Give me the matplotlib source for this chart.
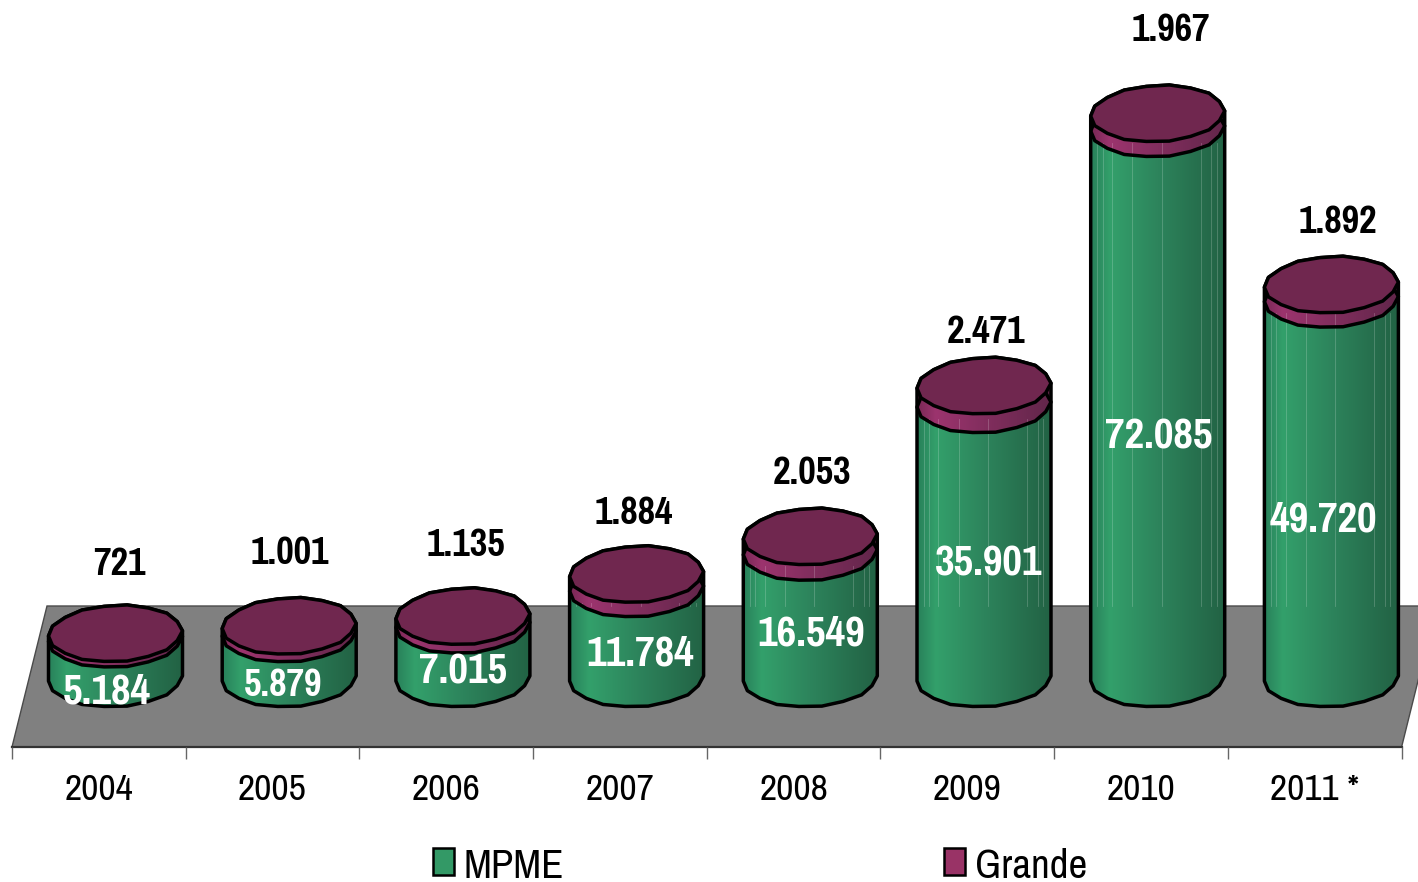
import numpy as np
import matplotlib
matplotlib.use("Agg")
import matplotlib.pyplot as plt
from matplotlib.patches import Polygon, Patch
from matplotlib.colors import LinearSegmentedColormap
from matplotlib.font_manager import fontManager

years = ["2004", "2005", "2006", "2007", "2008", "2009", "2010", "2011 *"]
mpme = [5184, 5879, 7015, 11784, 16549, 35901, 72085, 49720]
grande = [721, 1001, 1135, 1884, 2053, 2471, 1967, 1892]

# label placement (pixels relative to the anchor)
top_offsets = [(3.5, 68.5), (1, 73), (3, 71), (-3, 60.5), (1.5, 63), (2, 53), (13, 82.5), (6.5, 62.5)]
inner_offsets = [(-8.5, -32.5), (-6, -29), (0.5, -19.5), (3.5, -20), (0.5, -18), (4.5, -22), (1, -33), (-8.5, -30.5)]
inner_sizes = [33.5, 30, 33.5, 33.5, 33.5, 33.5, 33.5, 33.5]

W_PX, H_PX = 1418, 882
PX_PER_CAT = 173.7
PX_PER_VAL = 0.00763
X0_PX = 115.5
Y0_PX = 678.5
FLOOR_FRONT_PX = 747
FLOOR_BACK_PX = 606
DEPTH_PX = 35

names = {f.name for f in fontManager.ttflist}
FONT = next((n for n in ["Pragati Narrow", "PT Sans Narrow", "Archivo Narrow", "Liberation Sans"] if n in names))
plt.rcParams["font.family"] = [FONT, "DejaVu Sans"]

fig = plt.figure(figsize=(W_PX / 100, H_PX / 100), dpi=100, facecolor="white")
ax = fig.add_axes([0, (H_PX - FLOOR_FRONT_PX) / H_PX, 1, FLOOR_FRONT_PX / H_PX])
xlim = (-X0_PX / PX_PER_CAT, (W_PX - X0_PX) / PX_PER_CAT)
ylim = ((Y0_PX - FLOOR_FRONT_PX) / PX_PER_VAL, Y0_PX / PX_PER_VAL)
ax.set_xlim(xlim)
ax.set_ylim(ylim)
for s in ax.spines.values():
    s.set_visible(False)
ax.set_yticks([])

edge0 = (12 - X0_PX) / PX_PER_CAT
edges = [edge0 + k for k in range(len(years) + 1)]
ax.set_xticks(edges)
ax.set_xticklabels([])
ax.set_xticks([e + 0.5 for e in edges[:-1]], minor=True)
ax.set_xticklabels(years, minor=True, fontsize=29.5, color="black")
ax.tick_params(axis="x", which="major", length=8.6, width=1, color="#666666", direction="out")
ax.tick_params(axis="x", which="minor", length=0, pad=18.5)

# floor
floor_back_val = (Y0_PX - FLOOR_BACK_PX) / PX_PER_VAL
d = DEPTH_PX / PX_PER_CAT
ax.add_patch(Polygon([(edges[0], ylim[0]), (edges[-1], ylim[0]),
                      (edges[-1] + d, floor_back_val), (edges[0] + d, floor_back_val)],
                     closed=True, facecolor="#808080", edgecolor="#4a4a4a", lw=1.0,
                     zorder=1, clip_on=False))
ax.plot([edges[0], edges[-1]], [ylim[0], ylim[0]], color="#333333", lw=1.6, zorder=1.5, clip_on=False)

HALF_W = 67 / PX_PER_CAT
HALF_H = 28.5 / PX_PER_VAL
SHEAR = 0.09
N = 18
theta = np.linspace(0, 2 * np.pi, N + 1)
bump = np.where(np.arange(N + 1) % 2 == 0, 1.0, 0.98)
bump[N // 2] = 1.0
upper_idx = np.arange(0, N // 2 + 1)   # right -> left over the top
lower_idx = np.arange(N // 2, N + 1)   # left -> right under the bottom


def outline(i, val, idx):
    u, v = bump[idx] * np.cos(theta[idx]), bump[idx] * np.sin(theta[idx])
    return np.column_stack([i + HALF_W * u, val + HALF_H * (v + SHEAR * u)])


def rgb(r, g, b):
    return (r / 255, g / 255, b / 255)


green_cm = LinearSegmentedColormap.from_list("g", [
    (0, rgb(40, 128, 90)), (0.14, rgb(51, 160, 107)), (0.5, rgb(45, 132, 92)), (1, rgb(34, 98, 68))])
purple_cm = LinearSegmentedColormap.from_list("p", [
    (0, rgb(120, 40, 85)), (0.14, rgb(156, 52, 110)), (0.5, rgb(130, 46, 94)), (1, rgb(98, 38, 74))])
ramp = np.linspace(0, 1, 256).reshape(1, -1)
LW = 2.5
seams = [-0.9, -0.82, -0.68, -0.38, 0.06, 0.64, 0.8, 0.88]


def body(i, lo, hi, cmap):
    verts = np.vstack([outline(i, lo, lower_idx), outline(i, hi, upper_idx)])
    poly = Polygon(verts, closed=True, facecolor="none", edgecolor="none", zorder=2, transform=ax.transData)
    ax.add_patch(poly)
    im = ax.imshow(ramp, cmap=cmap, aspect="auto", interpolation="bilinear",
                   extent=(i - HALF_W, i + HALF_W, lo - 2 * HALF_H, hi + 2 * HALF_H), zorder=2)
    im.set_clip_path(poly)
    ax.add_patch(Polygon(verts, closed=True, facecolor="none", edgecolor="black", lw=LW,
                         joinstyle="round", zorder=3))
    return poly


for i, (g, t) in enumerate(zip(mpme, grande)):
    total = g + t
    body(i, 0, g, green_cm)
    # pale seams of the faceted cylinder, visible against the white wall only
    if g > floor_back_val:
        for s in seams:
            ax.plot([i + s * HALF_W] * 2, [floor_back_val, g - HALF_H * 0.5], color="white",
                    lw=0.6, alpha=0.22, zorder=2.5)
    body(i, g, total, purple_cm)
    ax.add_patch(Polygon(outline(i, total, np.arange(N)), closed=True, facecolor="#70274F",
                         edgecolor="black", lw=LW, joinstyle="round", zorder=4))
    ax.annotate(f"{t:,}".replace(",", "."), (i, total), xytext=top_offsets[i], textcoords="offset pixels",
                ha="center", va="center", fontsize=30, fontweight="bold", color="black", zorder=6,
                annotation_clip=False)
    ax.annotate(f"{g:,}".replace(",", "."), (i, g / 2), xytext=inner_offsets[i], textcoords="offset pixels",
                ha="center", va="center", fontsize=inner_sizes[i], fontweight="bold", color="white", zorder=6,
                annotation_clip=False)

ax.set_xlim(xlim)
ax.set_ylim(ylim)

handles = [Patch(facecolor="#339966", edgecolor="black", lw=1.8, label="MPME"),
           Patch(facecolor="#993366", edgecolor="black", lw=1.8, label="Grande")]
fig.legend(handles=handles, ncol=2, frameon=False, fontsize=32, loc="center",
           bbox_to_anchor=(760 / W_PX, 1 - 866 / H_PX), handlelength=0.48, handleheight=0.55,
           handletextpad=0.22, columnspacing=8.55, borderpad=0, borderaxespad=0)

fig.savefig("out.png", dpi=100, facecolor="white")
